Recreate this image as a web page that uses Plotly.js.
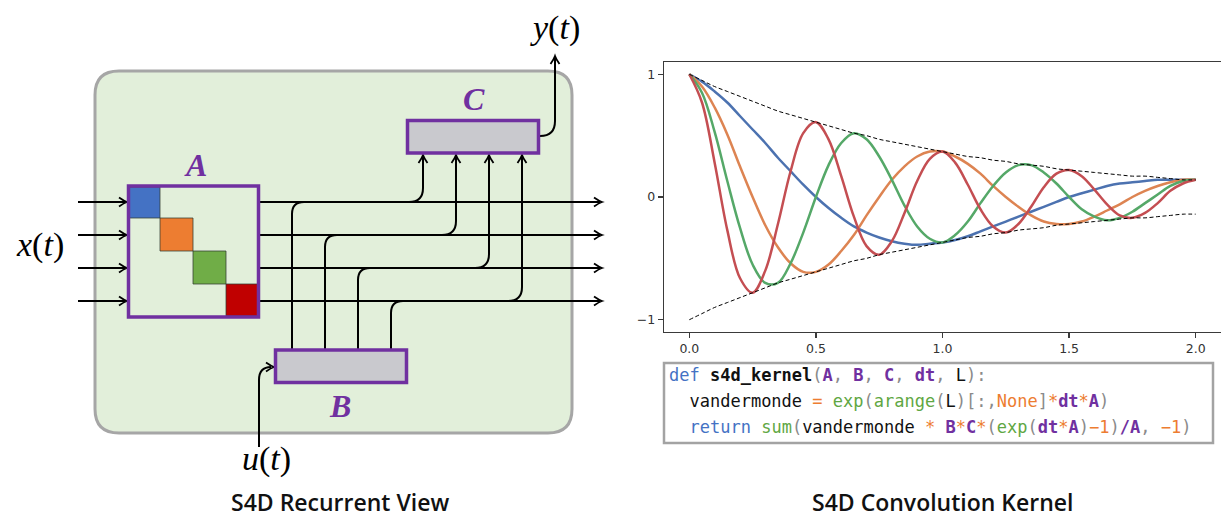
<!DOCTYPE html>
<html><head><meta charset="utf-8">
<script src="https://cdn.plot.ly/plotly-3.0.1.min.js"></script>
<style>html,body{margin:0;padding:0;background:#fff;} #chart{width:1221px;height:520px;}</style>
</head><body><div id="chart"></div>
<script>
// ---------- DATA ----------
const t = [0.00,0.05,0.10,0.15,0.20,0.25,0.30,0.35,0.40,0.45,0.50,0.55,0.60,0.65,0.70,0.75,0.80,0.85,0.90,0.95,1.00,
           1.05,1.10,1.15,1.20,1.25,1.30,1.35,1.40,1.45,1.50,1.55,1.60,1.65,1.70,1.75,1.80,1.85,1.90,1.95,2.00];
const kernelBlue   = [1.00,0.94,0.86,0.77,0.66,0.55,0.44,0.32,0.21,0.10,0.00,-0.09,-0.17,-0.24,-0.29,-0.33,-0.36,-0.38,-0.39,-0.38,-0.37,
                      -0.35,-0.32,-0.28,-0.24,-0.20,-0.16,-0.12,-0.08,-0.04,0.00,0.03,0.06,0.09,0.11,0.12,0.13,0.14,0.14,0.14,0.14];
const kernelOrange = [1.00,0.90,0.73,0.51,0.25,0.00,-0.23,-0.41,-0.54,-0.61,-0.61,-0.55,-0.44,-0.31,-0.15,0.00,0.14,0.25,0.33,0.37,0.37,
                      0.33,0.27,0.19,0.09,0.00,-0.08,-0.15,-0.20,-0.22,-0.22,-0.20,-0.16,-0.11,-0.06,0.00,0.05,0.09,0.12,0.14,0.14];
const kernelGreen  = [1.00,0.85,0.53,0.13,-0.25,-0.55,-0.70,-0.70,-0.54,-0.29,0.00,0.26,0.44,0.52,0.47,0.33,0.14,-0.07,-0.24,-0.34,-0.37,
                      -0.31,-0.20,-0.05,0.09,0.20,0.26,0.26,0.20,0.11,0.00,-0.10,-0.16,-0.19,-0.17,-0.12,-0.05,0.02,0.09,0.13,0.14];
const kernelRed    = [1.00,0.77,0.28,-0.27,-0.66,-0.78,-0.60,-0.22,0.21,0.52,0.61,0.47,0.17,-0.16,-0.40,-0.47,-0.36,-0.13,0.13,0.31,0.37,
                      0.28,0.10,-0.10,-0.24,-0.29,-0.22,-0.08,0.08,0.19,0.22,0.17,0.06,-0.06,-0.15,-0.17,-0.13,-0.05,0.05,0.11,0.14];
const envUpper     = [1.00,0.95,0.90,0.86,0.82,0.78,0.74,0.70,0.67,0.64,0.61,0.58,0.55,0.52,0.50,0.47,0.45,0.43,0.41,0.39,0.37,
                      0.35,0.33,0.32,0.30,0.29,0.27,0.26,0.25,0.23,0.22,0.21,0.20,0.19,0.18,0.17,0.17,0.16,0.15,0.14,0.14];
const envLower     = [-1.00,-0.95,-0.90,-0.86,-0.82,-0.78,-0.74,-0.70,-0.67,-0.64,-0.61,-0.58,-0.55,-0.52,-0.50,-0.47,-0.45,-0.43,-0.41,-0.39,-0.37,
                      -0.35,-0.33,-0.32,-0.30,-0.29,-0.27,-0.26,-0.25,-0.23,-0.22,-0.21,-0.20,-0.19,-0.18,-0.17,-0.17,-0.16,-0.15,-0.14,-0.14];
const xTickVals = [0, 0.5, 1, 1.5, 2];
const xTickText = ['0.0', '0.5', '1.0', '1.5', '2.0'];
const yTickVals = [-1, 0, 1];
const yTickText = ['\u22121', '0', '1'];
const leftTitle = 'S4D Recurrent View';
const rightTitle = 'S4D Convolution Kernel';
const matrixLabels = ['A', 'B', 'C'];
const signalLabels = ['x', 'y', 'u'];

// ---------- STYLE / GEOMETRY ----------
const W = 1221, H = 520;
const PURPLE = '#7030a0';
const fx = x => x / W;
const fy = y => 1 - y / H;
function path(segs) {
  return segs.map(s => {
    const c = s[0]; const out = [c];
    for (let i = 1; i < s.length; i += 2) out.push(fx(s[i]).toFixed(5) + ',' + fy(s[i+1]).toFixed(5));
    return out.join(' ');
  }).join(' ');
}
const shapes = [];
function addPath(segs, color, width, fill) {
  shapes.push({type:'path', xref:'paper', yref:'paper', path: path(segs),
    line:{color: color, width: width}, fillcolor: fill || 'rgba(0,0,0,0)'});
}
function addRect(x0, y0, x1, y1, fill, lc, lw) {
  shapes.push({type:'rect', xref:'paper', yref:'paper', x0:fx(x0), x1:fx(x1), y0:fy(y1), y1:fy(y0),
    fillcolor: fill, line:{color: lc, width: lw}});
}
function arrowRight(x, y) {
  addPath([['M', x-8, y-4.5], ['Q', x-3, y-1, x, y], ['Q', x-3, y+1, x-8, y+4.5]], '#000', 1.8);
}
function arrowUp(x, y) {
  addPath([['M', x-4.5, y+8], ['Q', x-1, y+3, x, y], ['Q', x+1, y+3, x+4.5, y+8]], '#000', 1.8);
}

// green rounded panel
(function(){
  const x0 = 95, x1 = 572, y0 = 71, y1 = 433, r = 24;
  addPath([['M', x0+r, y0], ['L', x1-r, y0], ['Q', x1, y0, x1, y0+r], ['L', x1, y1-r], ['Q', x1, y1, x1-r, y1],
           ['L', x0+r, y1], ['Q', x0, y1, x0, y1-r], ['L', x0, y0+r], ['Q', x0, y0, x0+r, y0], ['Z']],
          '#a6a6a6', 3, '#e2efda');
})();

const rowsY = [202, 235, 268, 301];
const bX = [292, 325, 358, 391];
const cX = [423, 456, 489, 522];
const rad = 12;

rowsY.forEach((y, i) => {
  addPath([['M', 78, y], ['L', 125, y]], '#000', 2); arrowRight(127, y);
  addPath([['M', 260, y], ['L', 600, y]], '#000', 2); arrowRight(602, y);
  addPath([['M', bX[i], 350], ['L', bX[i], y+rad], ['Q', bX[i], y, bX[i]+rad, y]], '#000', 2);
  addPath([['M', cX[i]-rad-2, y], ['Q', cX[i], y, cX[i], y-rad-2], ['L', cX[i], 157]], '#000', 2);
  arrowUp(cX[i], 155);
});
addPath([['M', 540, 136], ['Q', 555, 136, 555, 121], ['L', 555, 58]], '#000', 2); arrowUp(555, 56);
addPath([['M', 259, 447], ['L', 259, 380], ['Q', 259, 367, 271, 367]], '#000', 2); arrowRight(274, 367);

const cellColors = ['#4472c4', '#ed7d31', '#70ad47', '#c00000'];
const cellEdges = [129, 160, 193, 226, 258];
const cellEdgesY = [187, 218, 251, 284, 316];
cellColors.forEach((c, i) => addRect(cellEdges[i], cellEdgesY[i], cellEdges[i+1], cellEdgesY[i+1], c, 'rgba(50,60,50,0.75)', 1));
addRect(128.5, 186, 258.5, 317, 'rgba(0,0,0,0)', PURPLE, 3.5);
addRect(407.5, 120.5, 538.5, 153, '#c9c9ce', PURPLE, 3.5);
addRect(275.5, 350, 406.5, 382.5, '#c9c9ce', PURPLE, 3.5);
addRect(664, 363, 1213, 443, '#ffffff', '#a3a3a3', 2.5);

// ---------- ANNOTATIONS ----------
const ann = [];
function text(x, y, s, font, xanchor) {
  ann.push({xref:'paper', yref:'paper', x: fx(x), y: fy(y), text: s, showarrow:false,
    xanchor: xanchor || 'center', yanchor:'middle', font: font});
}
const mathFont = {family:'Liberation Serif, serif', size:34, color:'#000'};
const sig = v => '<i>' + v + '</i>(<i>t</i>)';
text(40, 245, sig(signalLabels[0]), mathFont);
text(555, 28, sig(signalLabels[1]), mathFont);
text(266, 459, sig(signalLabels[2]), mathFont);
const matFont = {family:'Liberation Serif, serif', size:32, color:PURPLE};
text(195, 165, '<b><i>' + matrixLabels[0] + '</i></b>', matFont);
text(340, 406, '<b><i>' + matrixLabels[1] + '</i></b>', matFont);
text(474, 99, '<b><i>' + matrixLabels[2] + '</i></b>', matFont);
const titleFont = {family:'Open Sans, sans-serif', size:23, color:'#111', weight:600};
text(340, 502, leftTitle, titleFont);
text(942, 502, rightTitle, titleFont);

const COL = {blue:'#4472c4', green:'#5fa743', orange:'#ed7d31', gray:'#8a8a8a', black:'#111'};
const sp = (c, s) => '<span style="color:' + c + '">' + s + '</span>';
const pb = s => '<span style="color:' + PURPLE + '"><b>' + s + '</b></span>';
const NB = '\u00a0';
const codeLines = [
  sp(COL.blue,'def') + NB + sp(COL.black,'<b>s4d_kernel</b>') + sp(COL.gray,'(') + pb('A') + sp(COL.gray,',') + NB +
    pb('B') + sp(COL.gray,',') + NB + pb('C') + sp(COL.gray,',') + NB + pb('dt') + sp(COL.gray,',') + NB +
    sp(COL.black,'L') + sp(COL.gray,'):'),
  NB + NB + sp(COL.black,'vandermonde') + NB + sp(COL.orange,'=') + NB + sp(COL.green,'exp') + sp(COL.gray,'(') +
    sp(COL.green,'arange') + sp(COL.gray,'(') + sp(COL.black,'L') + sp(COL.gray,')[:,') + sp(COL.orange,'None') +
    sp(COL.gray,']') + sp(COL.orange,'*') + pb('dt') + sp(COL.orange,'*') + pb('A') + sp(COL.gray,')'),
  NB + NB + sp(COL.blue,'return') + NB + sp(COL.green,'sum') + sp(COL.gray,'(') + sp(COL.black,'vandermonde') + NB +
    sp(COL.orange,'*') + NB + pb('B') + sp(COL.orange,'*') + pb('C') + sp(COL.orange,'*') + sp(COL.gray,'(') +
    sp(COL.green,'exp') + sp(COL.gray,'(') + pb('dt') + sp(COL.orange,'*') + pb('A') + sp(COL.gray,')') +
    sp(COL.orange,'\u22121') + sp(COL.gray,')') + pb('/A') + sp(COL.gray,',') + NB + sp(COL.orange,'\u22121') + sp(COL.gray,')')
];
const codeFont = {family:'DejaVu Sans Mono, monospace', size:17, color:'#111'};
[375, 401, 427].forEach((y, i) => text(667, y, codeLines[i], codeFont, 'left'));

// ---------- TRACES ----------
const series = [
  {y: kernelBlue, color:'#4c72b0'},
  {y: kernelOrange, color:'#dd8452'},
  {y: kernelGreen, color:'#55a868'},
  {y: kernelRed, color:'#c44e52'}
];
const traces = series.map(s => ({x: t, y: s.y, type:'scatter', mode:'lines',
  line:{color: s.color, width: 2.5, shape:'spline', smoothing:1}}));
[envUpper, envLower].forEach(e => traces.push({x: t, y: e, type:'scatter', mode:'lines',
  line:{color:'#000', width:1, dash:'4px,2.5px', shape:'spline'}}));

const axCommon = {showline:true, linecolor:'#3a3a3a', linewidth:1.3, mirror:true, ticks:'outside', ticklen:5,
  tickwidth:1.3, tickcolor:'#3a3a3a', showgrid:false, zeroline:false,
  tickfont:{family:'DejaVu Sans, sans-serif', size:12.5, color:'#333'}};
const layout = {
  width: W, height: H, margin:{l:0, r:0, t:0, b:0}, showlegend:false,
  paper_bgcolor:'#fff', plot_bgcolor:'#fff',
  xaxis: Object.assign({}, axCommon, {domain:[664/W, 1], range:[-0.1, 2.1], tickvals:xTickVals, ticktext:xTickText}),
  yaxis: Object.assign({}, axCommon, {domain:[1-332/H, 1-62/H], range:[-1.1, 1.1], tickvals:yTickVals, ticktext:yTickText}),
  shapes: shapes, annotations: ann, hovermode:false
};
Plotly.newPlot('chart', traces, layout, {displayModeBar:false, staticPlot:true});
</script></body></html>
